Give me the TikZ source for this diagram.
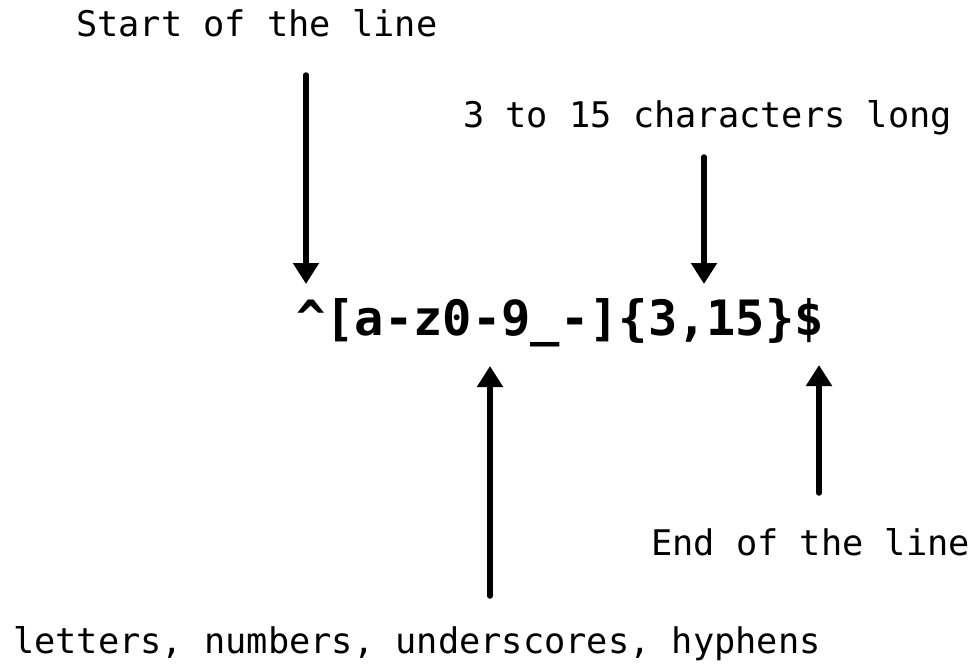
\documentclass[tikz,border=0pt]{standalone}
\usepackage{fontspec}
\setmonofont{DejaVu Sans Mono}
\usetikzlibrary{arrows.meta}
\tikzset{
  lbl/.style={font=\fontsize{35.3}{40}\selectfont\ttfamily, inner sep=0pt, anchor=base west},
  rgx/.style={font=\fontsize{48.7}{56}\selectfont\ttfamily\bfseries, inner sep=0pt, anchor=base west},
  arr/.style={line width=5.5pt, line cap=round, -{Triangle[width=25pt,length=21pt]}}
}
\begin{document}
\begin{tikzpicture}[x=1pt,y=-1pt]
\useasboundingbox (0,0) rectangle (973,666);
\node[lbl] (start) at (76,37) {Start of the line};
\node[lbl] (len) at (463,127) {3 to 15 characters long};
\node[rgx] (re) at (296,335) {\string^[a-z0-9\string_-]\string{3,15\string}\string$};
\node[lbl] (end) at (651,555) {End of the line};
\node[lbl] (chars) at (13,653) {letters, numbers, underscores, hyphens};
\coordinate (t1) at (306,75);
\coordinate (h1) at (306,284);
\coordinate (t2) at (704,157);
\coordinate (h2) at (704,284);
\coordinate (t3) at (490,596);
\coordinate (h3) at (490,366);
\coordinate (t4) at (819,493);
\coordinate (h4) at (819,365);
\draw[arr] (t1) -- (h1);
\draw[arr] (t2) -- (h2);
\draw[arr] (t3) -- (h3);
\draw[arr] (t4) -- (h4);
\end{tikzpicture}
\end{document}
